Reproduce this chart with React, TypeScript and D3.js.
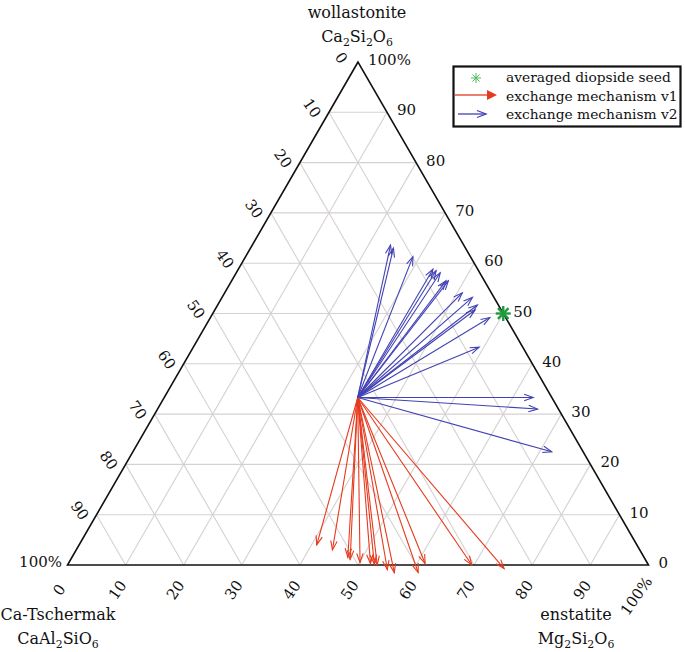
import React from "react";
import * as d3 from "d3";

// ---- data (ternary compositions, %) ----
const tickValues = [0, 10, 20, 30, 40, 50, 60, 70, 80, 90, 100];
const tickLabels = ["0", "10", "20", "30", "40", "50", "60", "70", "80", "90", "100%"];

const originWo = 33.3;
const originEn = 33.3;

// exchange mechanism v1 endpoints (wollastonite %, enstatite %)
const v1Wo = [4.0, 3.0, 1.5, 1.1, 0.5, 0.3, 0.2, 0.0, -0.9, -1.5, -1.5, 0.3, 0.0, -0.7];
const v1En = [40.9, 44.1, 47.5, 48.1, 50.1, 52.0, 52.7, 53.3, 55.5, 57.0, 61.1, 61.4, 69.6, 75.5];

// exchange mechanism v2 endpoints (wollastonite %, enstatite %)
const v2Wo = [63.6, 63.0, 61.3, 58.8, 58.5, 58.1, 56.5, 56.5, 54.1, 53.2, 51.7, 50.7, 49.2, 43.3, 33.3, 31.0, 22.5];
const v2En = [23.8, 24.6, 28.8, 33.5, 34.2, 35.1, 36.9, 37.3, 40.9, 43.1, 44.7, 44.8, 48.1, 49.2, 63.5, 65.4, 72.1];

const seedWo = 50;
const seedEn = 50;

const legendLabels = ["averaged diopside seed", "exchange mechanism v1", "exchange mechanism v2"];

// ---- layout ----
const W = 685;
const H = 652;
const FONT = "'DejaVu Serif', serif";
const RED = "#e63a1e";
const BLUE = "#4242b4";
const GRID = "#d6d1d1";

const yScale = d3.scaleLinear().domain([0, 100]).range([565, 62]);
const xScale = d3.scaleLinear().domain([0, 100]).range([67.5, 648.5]);
const toXY = (wo: number, en: number): [number, number] => [xScale(en + wo / 2), yScale(wo)];

function Arrow({ from, to, color, head = 9, half = 3.2, filled = false, width = 1.1 }: any) {
  const [x1, y1] = from;
  const [x2, y2] = to;
  const dx = x2 - x1, dy = y2 - y1;
  const L = Math.hypot(dx, dy);
  const ux = dx / L, uy = dy / L;
  const bx = x2 - ux * head, by = y2 - uy * head;
  const px = -uy, py = ux;
  const a: [number, number] = [bx + px * half, by + py * half];
  const b: [number, number] = [bx - px * half, by - py * half];
  return (
    <g>
      <line x1={x1} y1={y1} x2={filled ? bx : x2} y2={filled ? by : y2} stroke={color} strokeWidth={width} />
      {filled ? (
        <path d={`M${x2},${y2}L${a[0]},${a[1]}L${b[0]},${b[1]}Z`} fill={color} stroke="none" />
      ) : (
        <path d={`M${a[0]},${a[1]}L${x2},${y2}L${b[0]},${b[1]}`} fill="none" stroke={color} strokeWidth={width} />
      )}
    </g>
  );
}

function Star({ x, y, r, color, width }: any) {
  const angles = [0, 45, 90, 135];
  return (
    <g>
      {angles.map((a) => {
        const rad = (a * Math.PI) / 180;
        return (
          <line key={a} x1={x - r * Math.cos(rad)} y1={y - r * Math.sin(rad)} x2={x + r * Math.cos(rad)} y2={y + r * Math.sin(rad)}
            stroke={color} strokeWidth={width} />
        );
      })}
    </g>
  );
}

function Formula({ x, y, parts, size }: any) {
  return (
    <text x={x} y={y} textAnchor="middle" fontFamily={FONT} fontSize={size} fill="#111">
      {parts.map((p: any, i: number) =>
        p.sub ? (
          <tspan key={i} fontSize={size * 0.68} dy={4}>{p.t}</tspan>
        ) : (
          <tspan key={i} dy={i > 0 && parts[i - 1].sub ? -4 : 0}>{p.t}</tspan>
        )
      )}
    </text>
  );
}

export default function App() {
  const grid: [number, number][][] = [];
  for (let k = 10; k <= 90; k += 10) {
    grid.push([toXY(k, 0), toXY(k, 100 - k)]);
    grid.push([toXY(0, k), toXY(100 - k, k)]);
    grid.push([toXY(100 - k, 0), toXY(0, 100 - k)]);
  }
  const tri = [toXY(100, 0), toXY(0, 0), toXY(0, 100)];
  const origin = toXY(originWo, originEn);
  const seed = toXY(seedWo, seedEn);
  const line = d3.line();

  return (
    <svg width={W} height={H} style={{ position: "absolute", left: 0, top: 0, background: "#fff" }}>
      <rect x={0} y={0} width={W} height={H} fill="#fff" />
      {/* grid */}
      {grid.map((g, i) => (
        <path key={i} d={line(g) as string} stroke={GRID} strokeWidth={1.1} fill="none" />
      ))}
      {/* triangle */}
      <path d={(line(tri) as string) + "Z"} fill="none" stroke="#111" strokeWidth={1.6} strokeLinejoin="miter" />

      {/* left tick labels (Ca-Tschermak) */}
      {tickValues.slice(0, 10).map((v, i) => {
        const [x, y] = toXY(100 - v, 0);
        return (
          <text key={"l" + i} x={x - 17} y={y - 4} fontFamily={FONT} fontSize={15} textAnchor="middle"
            dominantBaseline="central" transform={`rotate(55 ${x - 17} ${y - 4})`} fill="#111">
            {tickLabels[i]}
          </text>
        );
      })}
      <text x={62} y={567} fontFamily={FONT} fontSize={15} textAnchor="end" fill="#111">100%</text>

      {/* right tick labels (wollastonite) */}
      {tickValues.map((v, i) => {
        const [x, y] = toXY(v, 100 - v);
        return (
          <text key={"r" + i} x={x + 10} y={y - 2} fontFamily={FONT} fontSize={15} textAnchor="start"
            dominantBaseline="central" fill="#111">
            {tickLabels[i]}
          </text>
        );
      })}

      {/* bottom tick labels (enstatite) */}
      {tickValues.map((v, i) => {
        const [x] = toXY(0, v);
        const cx = x - 8 + (i === 10 ? -4 : 0);
        const cy = 590 + (i === 10 ? 6 : 0);
        return (
          <text key={"b" + i} x={cx} y={cy} fontFamily={FONT} fontSize={15} textAnchor="middle"
            dominantBaseline="central" transform={`rotate(-55 ${cx} ${cy})`} fill="#111">
            {tickLabels[i]}
          </text>
        );
      })}

      {/* vertex titles */}
      <text x={357} y={18} textAnchor="middle" fontFamily={FONT} fontSize={16} fill="#111">wollastonite</text>
      <Formula x={357} y={42} size={16} parts={[{ t: "Ca" }, { t: "2", sub: true }, { t: "Si" }, { t: "2", sub: true }, { t: "O" }, { t: "6", sub: true }]} />
      <text x={58} y={620} textAnchor="middle" fontFamily={FONT} fontSize={16} fill="#111">Ca-Tschermak</text>
      <Formula x={58} y={644} size={16} parts={[{ t: "CaAl" }, { t: "2", sub: true }, { t: "SiO" }, { t: "6", sub: true }]} />
      <text x={576} y={620} textAnchor="middle" fontFamily={FONT} fontSize={16} fill="#111">enstatite</text>
      <Formula x={576} y={644} size={16} parts={[{ t: "Mg" }, { t: "2", sub: true }, { t: "Si" }, { t: "2", sub: true }, { t: "O" }, { t: "6", sub: true }]} />

      {/* v1 arrows */}
      {v1Wo.map((wo, i) => (
        <Arrow key={"v1" + i} from={origin} to={toXY(wo, v1En[i])} color={RED} />
      ))}
      {/* v2 arrows */}
      {v2Wo.map((wo, i) => (
        <Arrow key={"v2" + i} from={origin} to={toXY(wo, v2En[i])} color={BLUE} />
      ))}

      {/* seed */}
      <Star x={seed[0]} y={seed[1]} r={7.5} color="#1f9a3c" width={2.4} />

      {/* legend */}
      <rect x={453.5} y={66.5} width={227} height={60} fill="#fff" stroke="#111" strokeWidth={2.2} />
      <Star x={476} y={78} r={5} color="#4cbb5c" width={1} />
      <Arrow from={[455, 95]} to={[497, 95]} color={RED} head={10} half={5} filled={true} width={1.3} />
      <Arrow from={[458, 114]} to={[486, 114]} color={BLUE} head={9} half={3.5} width={1.3} />
      {legendLabels.map((t, i) => (
        <text key={"lg" + i} x={506} y={77 + i * 18.5} dominantBaseline="central" fontFamily={FONT} fontSize={13.8} fill="#111">
          {t}
        </text>
      ))}
    </svg>
  );
}
